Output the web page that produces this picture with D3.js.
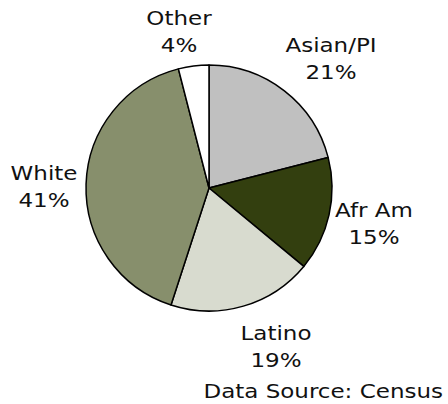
<!DOCTYPE html>
<html><head><meta charset="utf-8">
<script src="https://cdn.jsdelivr.net/npm/d3@7"></script>
<style>html,body{margin:0;padding:0;background:#fff;}svg{display:block;}</style>
</head><body>
<script>
const categories = ["Asian/PI", "Afr Am", "Latino", "White", "Other"];
const values = [21, 15, 19, 41, 4];
const colors = ["#c0c0c0", "#333f0f", "#d8dbcf", "#878f6c", "#ffffff"];
const source = "Data Source: Census";

const W = 448, H = 404;
const cx = 209, cy = 188, r = 123;
const svg = d3.select("body").append("svg").attr("width", W).attr("height", H);

const pie = d3.pie().sort(null).value(d => d.v);
const data = pie(categories.map((c, i) => ({c, v: values[i], col: colors[i]})));
const arc = d3.arc().innerRadius(0).outerRadius(r);
const g = svg.append("g").attr("transform", `translate(${cx},${cy})`);
g.selectAll("path").data(data).enter().append("path")
  .attr("d", arc).attr("fill", d => d.data.col)
  .attr("stroke", "#000").attr("stroke-width", 1.5).attr("stroke-linejoin", "round");

const labelPos = {
  "Asian/PI": [331, 52],
  "Afr Am": [374, 217],
  "Latino": [276, 340],
  "White": [44, 180],
  "Other": [179, 25]
};
const font = "'DejaVu Sans', Verdana, sans-serif";
data.forEach(d => {
  const [x, y] = labelPos[d.data.c];
  const t = svg.append("text").attr("text-anchor", "middle")
    .attr("font-family", font).attr("font-size", 20).attr("fill", "#111")
    .attr("transform", `translate(${x},${y}) scale(1.15,1)`);
  t.append("tspan").attr("x", 0).attr("y", 0).text(d.data.c);
  t.append("tspan").attr("x", 0).attr("y", 27).text(d.data.v + "%");
});
svg.append("text").attr("text-anchor", "end")
  .attr("font-family", font).attr("font-size", 20).attr("fill", "#111")
  .attr("transform", `translate(443,398) scale(1.15,1)`)
  .text(source);
</script>
</body></html>
